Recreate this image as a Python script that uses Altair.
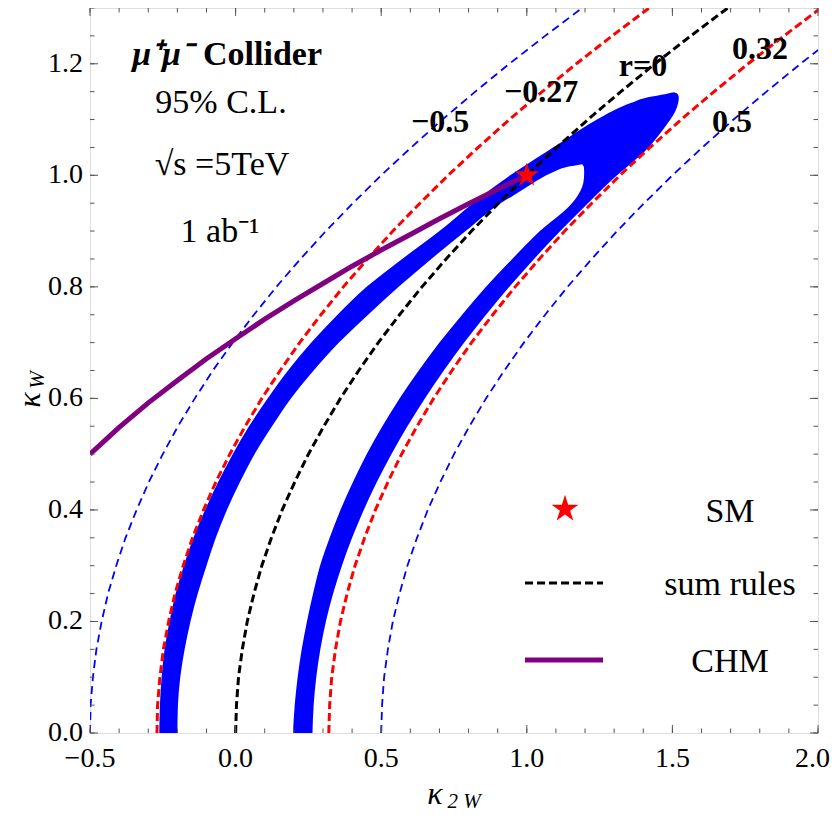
import altair as alt
import pandas as pd

# ---------------- data ----------------
X_DOMAIN = [-0.5, 2.0]
Y_DOMAIN = [0.0, 1.3]

# sum-rule curves (kappa_W grid, kappa_2W values per curve)
kw_grid = [0.0, 0.05, 0.1, 0.15, 0.2, 0.25, 0.3, 0.35, 0.4, 0.45, 0.5, 0.55, 0.6, 0.65,
           0.7, 0.75, 0.8, 0.85, 0.9, 0.95, 1.0, 1.05, 1.1, 1.15, 1.2, 1.25, 1.3]
k2w_r_m050 = [-0.5, -0.498, -0.49, -0.478, -0.46, -0.438, -0.41, -0.378, -0.34, -0.298, -0.25, -0.198, -0.14, -0.078,
              -0.01, 0.063, 0.14, 0.223, 0.31, 0.403, 0.5, 0.603, 0.71, 0.823, 0.94, 1.063, 1.19]
k2w_r_m027 = [-0.27, -0.268, -0.26, -0.248, -0.23, -0.208, -0.18, -0.148, -0.11, -0.068, -0.02, 0.033, 0.09, 0.153,
              0.22, 0.293, 0.37, 0.453, 0.54, 0.633, 0.73, 0.833, 0.94, 1.053, 1.17, 1.293, 1.42]
k2w_r_000 = [0.0, 0.003, 0.01, 0.023, 0.04, 0.063, 0.09, 0.123, 0.16, 0.203, 0.25, 0.303, 0.36, 0.423,
             0.49, 0.563, 0.64, 0.723, 0.81, 0.903, 1.0, 1.103, 1.21, 1.323, 1.44, 1.563, 1.69]
k2w_r_p032 = [0.32, 0.323, 0.33, 0.343, 0.36, 0.383, 0.41, 0.443, 0.48, 0.523, 0.57, 0.623, 0.68, 0.743,
              0.81, 0.883, 0.96, 1.043, 1.13, 1.223, 1.32, 1.423, 1.53, 1.643, 1.76, 1.883, 2.01]
k2w_r_p050 = [0.5, 0.503, 0.51, 0.523, 0.54, 0.563, 0.59, 0.623, 0.66, 0.703, 0.75, 0.803, 0.86, 0.923,
              0.99, 1.063, 1.14, 1.223, 1.31, 1.403, 1.5, 1.603, 1.71, 1.823, 1.94, 2.063, 2.19]

# 95% C.L. band: outer contour (left / right edge per kappa_W) and the inner hole
band_outer_kw = [0.0, 0.05, 0.1, 0.15, 0.2, 0.25, 0.3, 0.35, 0.4, 0.45, 0.5, 0.55, 0.6, 0.65, 0.7, 0.75,
                 0.8, 0.85, 0.9, 0.95, 1.0, 1.02, 1.04, 1.06, 1.08, 1.10, 1.115, 1.13, 1.14, 1.146, 1.149]
band_outer_lo = [-0.262, -0.26, -0.254, -0.244, -0.227, -0.206, -0.178, -0.145, -0.105, -0.06, -0.01, 0.046,
                 0.11, 0.18, 0.26, 0.35, 0.45, 0.572, 0.70, 0.815, 0.943, 1.001, 1.061, 1.121, 1.178, 1.241,
                 1.293, 1.359, 1.416, 1.478, 1.505]
band_outer_hi = [0.264, 0.268, 0.277, 0.291, 0.31, 0.335, 0.365, 0.40, 0.44, 0.485, 0.535, 0.59, 0.65, 0.715,
                 0.785, 0.86, 0.94, 1.025, 1.115, 1.21, 1.31, 1.355, 1.40, 1.435, 1.465, 1.493, 1.51, 1.52,
                 1.522, 1.518, 1.505]

band_hole_kw = [0.0, 0.05, 0.1, 0.15, 0.2, 0.25, 0.3, 0.35, 0.4, 0.45, 0.5, 0.55, 0.6, 0.65, 0.7, 0.75,
                0.8, 0.85, 0.9, 0.95, 0.964, 0.979, 0.994, 1.006, 1.015, 1.02]
band_hole_lo = [-0.2, -0.198, -0.19, -0.175, -0.155, -0.13, -0.10, -0.068, -0.03, 0.015, 0.065, 0.125, 0.19,
                0.268, 0.355, 0.455, 0.56, 0.672, 0.79, 0.91, 0.954, 1.0, 1.046, 1.091, 1.137, 1.19]
band_hole_hi = [0.197, 0.203, 0.213, 0.227, 0.245, 0.266, 0.29, 0.323, 0.36, 0.403, 0.45, 0.504, 0.563, 0.629,
                0.70, 0.778, 0.86, 0.95, 1.045, 1.155, 1.175, 1.19, 1.196, 1.197, 1.196, 1.19]

# composite Higgs model line
chm_k2w = [-0.5, -0.4, -0.3, -0.2, -0.1, 0.0, 0.1, 0.2, 0.3, 0.4, 0.5, 0.6, 0.7, 0.8, 0.9, 1.0]
chm_kw = [0.5, 0.548, 0.592, 0.632, 0.671, 0.707, 0.742, 0.775, 0.806, 0.837, 0.866, 0.894, 0.922, 0.949, 0.975, 1.0]

# SM point
sm_k2w = [1.0]
sm_kw = [1.0]

# curve labels
lab_text = ["\u22120.5", "\u22120.27", "r=0", "0.32", "0.5"]
lab_k2w = [0.702, 1.049, 1.399, 1.801, 1.705]
lab_kw = [1.095, 1.149, 1.196, 1.227, 1.095]

x_tick_values = [-0.5, 0.0, 0.5, 1.0, 1.5, 2.0]
x_tick_text = ["\u22120.5", "0.0", "0.5", "1.0", "1.5", "2.0"]
y_tick_values = [0.0, 0.2, 0.4, 0.6, 0.8, 1.0, 1.2]
y_tick_text = ["0.0", "0.2", "0.4", "0.6", "0.8", "1.0", "1.2"]

# ---------------- layout ----------------
W, H = 728, 725
FONT = "Liberation Serif"
xs = alt.Scale(domain=X_DOMAIN, nice=False, zero=False)
ys = alt.Scale(domain=Y_DOMAIN, nice=False, zero=False)
STAR = ("M0,-1L0.2245,-0.309L0.9511,-0.309L0.3633,0.118L0.5878,0.809L0,0.382"
        "L-0.5878,0.809L-0.3633,0.118L-0.9511,-0.309L-0.2245,-0.309Z")


def harea(kws, los, his, color):
    df = pd.DataFrame({"kw": kws, "lo": los, "hi": his})
    return alt.Chart(df).mark_area(
        orient="horizontal", color=color, opacity=1, clip=True, interpolate="monotone"
    ).encode(
        y=alt.Y("kw:Q", scale=ys, axis=None),
        x=alt.X("lo:Q", scale=xs, axis=None),
        x2="hi:Q",
    )


band_outer = harea(band_outer_kw, band_outer_lo, band_outer_hi, "#0000ff")
band_hole = harea(band_hole_kw, band_hole_lo, band_hole_hi, "#ffffff")


def curve_df(curves):
    rows = []
    for name, vals in curves:
        for k, v in zip(kw_grid, vals):
            rows.append({"curve": name, "kw": k, "k2w": v})
    return pd.DataFrame(rows)


def dashed(df, color, width, dash):
    return alt.Chart(df).mark_line(color=color, strokeWidth=width, strokeDash=dash, clip=True).encode(
        x=alt.X("k2w:Q", scale=xs, axis=None),
        y=alt.Y("kw:Q", scale=ys, axis=None),
        detail="curve:N",
        order="kw:Q",
    )


blue_lines = dashed(curve_df([("m050", k2w_r_m050), ("p050", k2w_r_p050)]), "#0000ff", 1.8, [8, 5])
red_lines = dashed(curve_df([("m027", k2w_r_m027), ("p032", k2w_r_p032)]), "#ff0000", 3, [8, 4])
black_line = dashed(curve_df([("r0", k2w_r_000)]), "black", 3, [8, 4])

chm = alt.Chart(pd.DataFrame({"k2w": chm_k2w, "kw": chm_kw})).mark_line(
    color="#800080", strokeWidth=5, clip=True
).encode(x=alt.X("k2w:Q", scale=xs, axis=None), y=alt.Y("kw:Q", scale=ys, axis=None), order="k2w:Q")

sm = alt.Chart(pd.DataFrame({"k2w": sm_k2w, "kw": sm_kw})).mark_point(
    shape=STAR, filled=True, color="#ff0000", size=650, opacity=1
).encode(x=alt.X("k2w:Q", scale=xs, axis=None), y=alt.Y("kw:Q", scale=ys, axis=None))

labels = alt.Chart(pd.DataFrame({"t": lab_text, "k2w": lab_k2w, "kw": lab_kw})).mark_text(
    font=FONT, fontSize=32, fontWeight="bold", color="black", baseline="middle", align="center"
).encode(x=alt.X("k2w:Q", scale=xs, axis=None), y=alt.Y("kw:Q", scale=ys, axis=None), text="t:N")

# tick labels (the last x label is right-aligned so it stays inside the page)
x_labels = alt.Chart(pd.DataFrame({"v": x_tick_values[:-1], "t": x_tick_text[:-1]})).mark_text(
    font=FONT, fontSize=28, color="black", baseline="alphabetic", align="center"
).encode(x=alt.X("v:Q", scale=xs, axis=None), y=alt.value(H + 34), text="t:N")
y_labels = alt.Chart(pd.DataFrame({"v": y_tick_values, "t": y_tick_text})).mark_text(
    font=FONT, fontSize=28, color="black", baseline="middle", align="right"
).encode(y=alt.Y("v:Q", scale=ys, axis=None), x=alt.value(-7), text="t:N")

# inward frame ticks
x_minor = [round(-0.5 + 0.1 * i, 2) for i in range(26)]
y_minor = [round(0.05 * i, 2) for i in range(27)]


def xticks(vals, length):
    d = pd.DataFrame({"v": vals})
    b = alt.Chart(d).mark_rule(color="#555", strokeWidth=1).encode(
        x=alt.X("v:Q", scale=xs, axis=None), y=alt.value(H), y2=alt.value(H - length))
    t = alt.Chart(d).mark_rule(color="#555", strokeWidth=1).encode(
        x=alt.X("v:Q", scale=xs, axis=None), y=alt.value(0), y2=alt.value(length))
    return [b, t]


def yticks(vals, length):
    d = pd.DataFrame({"v": vals})
    l = alt.Chart(d).mark_rule(color="#555", strokeWidth=1).encode(
        y=alt.Y("v:Q", scale=ys, axis=None), x=alt.value(0), x2=alt.value(length))
    r = alt.Chart(d).mark_rule(color="#555", strokeWidth=1).encode(
        y=alt.Y("v:Q", scale=ys, axis=None), x=alt.value(W), x2=alt.value(W - length))
    return [l, r]


tick_layers = xticks(x_minor, 4.5) + xticks(x_tick_values, 8) + yticks(y_minor, 4.5) + yticks(y_tick_values, 8)

one = pd.DataFrame({"a": [0]})


def ptext(t, x, y, size, weight="normal", style="normal", angle=0, align="center", baseline="alphabetic"):
    return alt.Chart(pd.DataFrame({"t": [t]})).mark_text(
        font=FONT, fontSize=size, fontWeight=weight, fontStyle=style, angle=angle,
        align=align, baseline=baseline, color="black"
    ).encode(x=alt.value(x), y=alt.value(y), text="t:N")


texts = [
    ptext("\u03bc\u207a\u03bc\u207b", 102, 57, 34, weight="bold", style="italic", align="right"),
    ptext("Collider", 113, 57, 34, weight="bold", align="left"),
    ptext("95% C.L.", 131, 105, 34),
    ptext("\u221as =5TeV", 132, 167, 34),
    ptext("1 ab\u207b\u00b9", 130, 234, 34),
    ptext(x_tick_text[-1], W + 12, H + 34, 28, align="right"),
    # axis titles
    ptext("\u03ba", 345, 796, 32, style="italic"),
    ptext("2 W", 374, 800, 21, style="italic"),
    ptext("\u03ba", -60, 392, 32, style="italic", angle=270, baseline="middle"),
    ptext("W", -52, 372, 21, style="italic", angle=270, baseline="middle"),
    # legend texts
    ptext("SM", 640, 504, 34, baseline="middle"),
    ptext("sum rules", 640, 577, 34, baseline="middle"),
    ptext("CHM", 640, 654, 34, baseline="middle"),
]

leg_star = alt.Chart(one).mark_point(shape=STAR, filled=True, color="#ff0000", size=800, opacity=1).encode(
    x=alt.value(475), y=alt.value(501))
leg_dash = alt.Chart(one).mark_rule(color="black", strokeWidth=3, strokeDash=[8, 4]).encode(
    x=alt.value(435), x2=alt.value(513), y=alt.value(575))
leg_chm = alt.Chart(one).mark_rule(color="#800080", strokeWidth=5).encode(
    x=alt.value(435), x2=alt.value(513), y=alt.value(652))

chart = alt.layer(
    band_outer, band_hole, blue_lines, red_lines, black_line, chm, sm, labels,
    x_labels, y_labels, *tick_layers, *texts, leg_star, leg_dash, leg_chm
).properties(
    width=W, height=H,
    autosize=alt.AutoSizeParams(type="none"),
    padding={"left": 82, "top": 0, "right": 12, "bottom": 80},
).configure_view(
    stroke="#555", strokeWidth=1.2
).configure(background="white")

chart.save("out.html", embed_options={"renderer": "svg", "actions": False})
